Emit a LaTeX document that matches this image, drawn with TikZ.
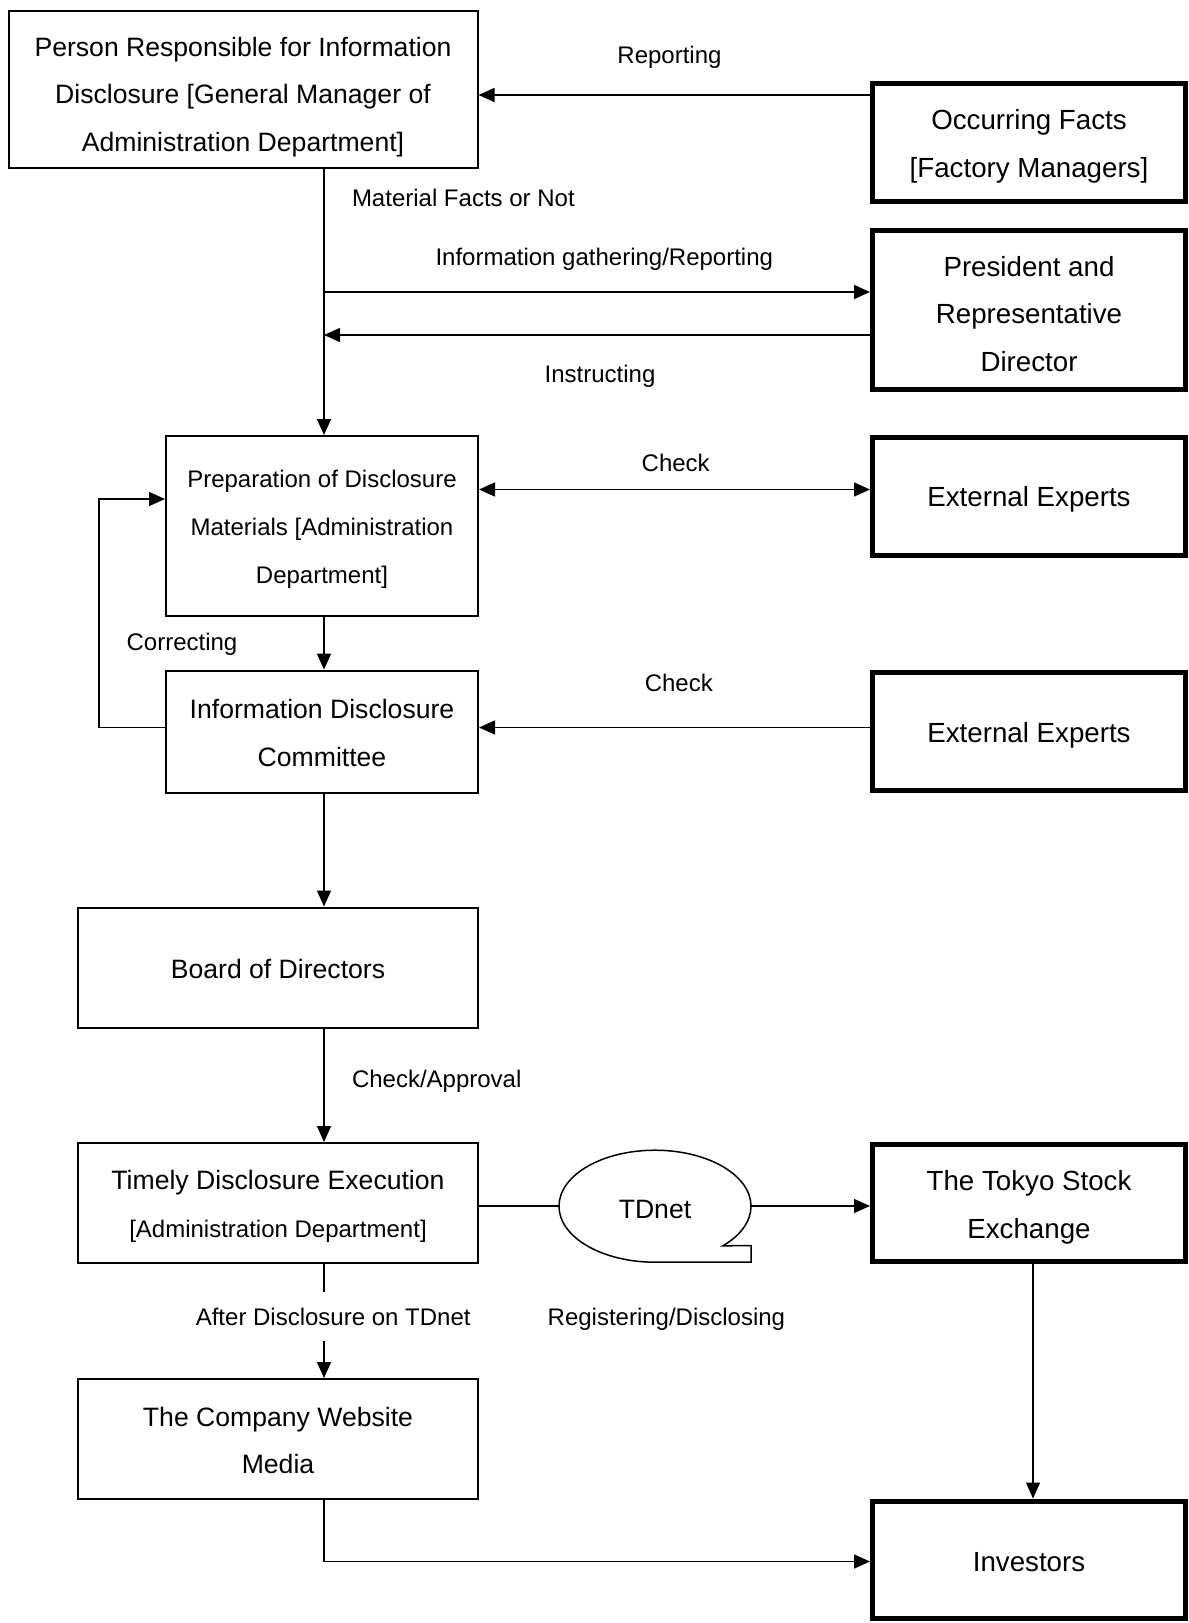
\documentclass[tikz,border=0pt]{standalone}
\usepackage{fontspec}
\setmainfont{Liberation Sans}
\usetikzlibrary{arrows.meta,shapes.geometric}

\begin{document}
\begin{tikzpicture}[x=1pt,y=-1pt,
    box/.style={draw,line width=2pt,align=center,inner sep=0pt,
      text depth=0pt,text height=21.6pt,
      font=\fontsize{26.6}{47.6}\selectfont},
    bigbox/.style={draw,line width=5pt,align=center,inner sep=0pt,
      minimum width=313pt,minimum height=118pt,
      text depth=0pt,text height=23pt,
      font=\fontsize{27.7}{47.6}\selectfont},
    lbl/.style={inner sep=0pt,text depth=0pt,text height=17.5pt,
      font=\fontsize{24}{28}\selectfont},
    link/.style={line width=1.5pt},
    arr/.style={link,-{Triangle[length=16pt,width=14pt]}},
    twoarr/.style={link,{Triangle[length=16pt,width=14pt]}-{Triangle[length=16pt,width=14pt]}}]
      \useasboundingbox (0,0) rectangle (1189,1623);

      \node[box,minimum width=469pt,minimum height=157pt,text height=124.8pt] (resp) at (243,89)
        {Person Responsible for Information\\Disclosure [General Manager of\\Administration Department]};
      \node[bigbox,text height=69.8pt] (facts) at (1029,142.5) {Occurring Facts\\{}[Factory Managers]};
      \node[bigbox,minimum height=159pt,text height=123.4pt] (pres) at (1029,309.5)
        {President and\\Representative\\Director};

      \node[box,minimum width=312pt,minimum height=180pt,text height=115pt,
        font=\fontsize{24}{48}\selectfont] (prep) at (322,526)
        {Preparation of Disclosure\\Materials [Administration\\Department]};
      \node[bigbox,text height=21.6pt] (expertsA) at (1029,496) {External Experts};
      \node[box,minimum width=312pt,minimum height=122pt,text height=69pt] (committee) at (322,731.6)
        {Information Disclosure\\Committee};
      \node[bigbox,text height=22.2pt] (expertsB) at (1029,731.6) {External Experts};

      \node[box,minimum width=400pt,minimum height=120pt] (board) at (278,967.5)
        {Board of Directors};
      \node[box,minimum width=400pt,minimum height=120pt,text height=69pt] (timely) at (278,1203)
        {Timely Disclosure Execution\\{}{\fontsize{24}{47.6}\selectfont[Administration Department]}};
      \node[bigbox,minimum height=117pt,text height=70.8pt] (tse) at (1029,1203) {The Tokyo Stock\\Exchange};
      \node[ellipse,minimum width=192pt,minimum height=112pt,inner sep=0pt,
        text depth=0pt,text height=24.8pt,
        font=\fontsize{26.6}{30}\selectfont] (tdnet) at (655,1206) {TDnet};
      \node[box,minimum width=400pt,minimum height=120pt,text height=69.8pt] (web) at (278,1439)
        {The Company Website\\Media};
      \node[bigbox,minimum height=117pt,text height=23.2pt] (investors) at (1029,1559.5) {Investors};

      \coordinate (spine) at (324,0);
      \coordinate (loop) at (99,0);
      \coordinate (rowrep) at (0,95);
      \coordinate (rowgather) at (0,292);
      \coordinate (rowinstr) at (0,335);
      \coordinate (rowcheck) at (0,489.5);
      \coordinate (rowup) at (0,499);
      \coordinate (rowfix) at (0,727.5);
      \coordinate (rowweb) at (0,1561.5);

      \draw[link] (tdnet.south) arc[start angle=90,end angle=405,x radius=96,y radius=56]
        -- (751,1245.6) -- (751,1262) -- cycle;

      \draw[arr] (facts.west |- rowrep) -- (resp.east |- rowrep);
      \draw[arr] (resp.south -| spine) -- (prep.north -| spine);
      \draw[arr] (spine |- rowgather) -- (pres.west |- rowgather);
      \draw[arr] (pres.west |- rowinstr) -- (spine |- rowinstr);
      \draw[twoarr] (prep.east |- rowcheck) -- (expertsA.west |- rowcheck);
      \draw[arr] (prep.south -| spine) -- (committee.north -| spine);
      \draw[arr] (committee.west |- rowfix) -- (loop |- rowfix) -- (loop |- rowup) -- (prep.west |- rowup);
      \draw[arr] (expertsB.west |- rowfix) -- (committee.east |- rowfix);
      \draw[arr] (committee.south -| spine) -- (board.north -| spine);
      \draw[arr] (board.south -| spine) -- (timely.north -| spine);
      \draw[link] (timely.east |- tdnet.west) -- (tdnet.west);
      \draw[arr] (tdnet.east) -- (tse.west |- tdnet.east);
      \draw[arr] ([xshift=4pt]tse.south) -- ([xshift=4pt]investors.north);
      \draw[arr] (timely.south -| spine) -- (web.north -| spine);
      \draw[arr] (web.south -| spine) -- (spine |- rowweb) -- (investors.west |- rowweb);

      \node[lbl] (lblrep) at (669.5,54.8) {Reporting};
      \node[lbl,anchor=west] (lblmaterial) at (351.8,197.6) {Material Facts or Not};
      \node[lbl] (lblgather) at (604.3,256.6) {Information gathering/Reporting};
      \node[lbl] (lblinstr) at (600,373.6) {Instructing};
      \node[lbl] (lblcheckA) at (675.7,462.5) {Check};
      \node[lbl] (lblfix) at (182,641.6) {Correcting};
      \node[lbl] (lblcheckB) at (678.8,683) {Check};
      \node[lbl,anchor=west] (lblapproval) at (351.8,1078.3) {Check/Approval};
      \node[lbl,fill=white,inner xsep=2pt,inner ysep=16pt] (lblafter) at (333.2,1316.3)
        {After Disclosure on TDnet};
      \node[lbl] (lblregister) at (666.4,1316.3) {Registering/Disclosing};
    \end{tikzpicture}
\end{document}
